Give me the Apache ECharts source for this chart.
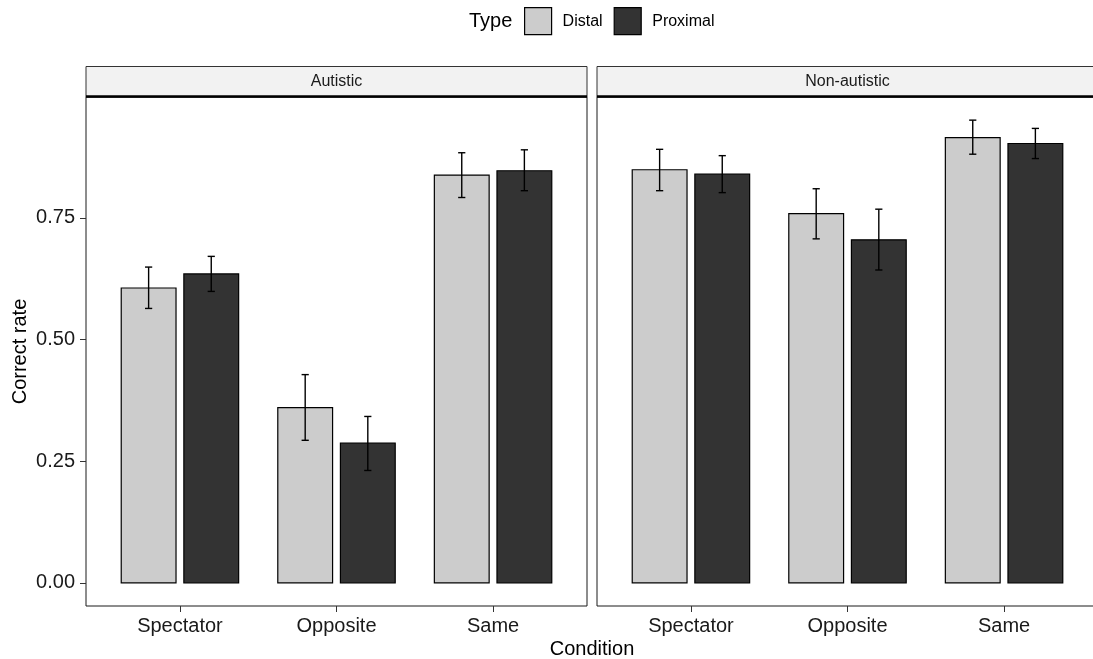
<!DOCTYPE html>
<html>
<head>
<meta charset="utf-8">
<script src="https://cdn.jsdelivr.net/npm/echarts@6/dist/echarts.min.js"></script>
<style>
html,body{margin:0;padding:0;background:#fff;}
#chart{width:1093px;height:659px;}
</style>
</head>
<body>
<div id="chart"></div>
<script>
// ---- data ----
const categories = ['Spectator', 'Opposite', 'Same'];
const panels = ['Autistic', 'Non-autistic'];
const types = ['Distal', 'Proximal'];
const yTicks = [0, 0.25, 0.5, 0.75];

const autDistal      = [0.606, 0.360, 0.838];
const autDistalLo    = [0.564, 0.293, 0.792];
const autDistalHi    = [0.649, 0.428, 0.884];
const autProximal    = [0.635, 0.287, 0.847];
const autProximalLo  = [0.599, 0.231, 0.806];
const autProximalHi  = [0.671, 0.342, 0.890];

const nonDistal      = [0.849, 0.759, 0.915];
const nonDistalLo    = [0.806, 0.707, 0.881];
const nonDistalHi    = [0.891, 0.810, 0.951];
const nonProximal    = [0.840, 0.705, 0.903];
const nonProximalLo  = [0.802, 0.643, 0.872];
const nonProximalHi  = [0.878, 0.768, 0.934];

// ---- layout / style ----
const FONT = 'Liberation Sans, Arial, sans-serif';
const fills = ['#cccccc', '#333333'];
const offsets = [-0.2, 0.2];
const barHalf = 0.175;
const whiskerHalf = 0.023;
const gridTop = 97, gridH = 509, gridW = 501;
const gridLefts = [86, 597];
const stripH = 30.5;

const seriesData = [
  [[autDistal, autDistalLo, autDistalHi], [autProximal, autProximalLo, autProximalHi]],
  [[nonDistal, nonDistalLo, nonDistalHi], [nonProximal, nonProximalLo, nonProximalHi]]
];

// y range: data range 0..max(hi) with 5% expansion (ggplot style)
let maxHi = 0;
seriesData.forEach(p => p.forEach(t => t[2].forEach(v => { if (v > maxHi) maxHi = v; })));
const yExp = maxHi * 0.05;
const yMin = -yExp, yMax = maxHi + yExp;

const grids = gridLefts.map(l => ({
  left: l, top: gridTop, width: gridW, height: gridH,
  outerBoundsMode: 'none', containLabel: false,
  show: true, borderColor: '#1a1a1a', borderWidth: 1, backgroundColor: 'transparent'
}));

const xAxes = panels.map((p, i) => ({
  type: 'value', gridIndex: i, min: 0.4, max: 3.6,
  axisLine: { show: false, onZero: false },
  splitLine: { show: false },
  axisTick: { show: true, inside: false, customValues: [1, 2, 3], length: 6, lineStyle: { color: '#333', width: 1 } },
  axisLabel: {
    customValues: [1, 2, 3], formatter: v => categories[Math.round(v) - 1],
    fontSize: 20, color: '#1a1a1a', fontFamily: FONT, margin: 10
  }
}));

const yAxes = panels.map((p, i) => ({
  type: 'value', gridIndex: i, min: yMin, max: yMax,
  axisLine: { show: false, onZero: false },
  splitLine: { show: false },
  axisTick: i === 0 ? { show: true, customValues: yTicks, length: 6, lineStyle: { color: '#333', width: 1 } } : { show: false },
  axisLabel: i === 0 ? {
    customValues: yTicks, formatter: v => v.toFixed(2),
    fontSize: 20, color: '#1a1a1a', fontFamily: FONT, margin: 11
  } : { show: false },
  name: i === 0 ? 'Correct rate' : '',
  nameLocation: 'middle', nameGap: 56,
  nameTextStyle: { fontSize: 20, color: '#000', fontFamily: FONT }
}));

const series = [];
panels.forEach((p, pi) => {
  types.forEach((t, ti) => {
    const [vals, lo, hi] = seriesData[pi][ti];
    series.push({
      type: 'custom', name: t, xAxisIndex: pi, yAxisIndex: pi,
      itemStyle: { color: fills[ti], borderColor: '#000', borderWidth: 1 },
      encode: { x: 0, y: 1 },
      data: categories.map((c, ci) => [ci + 1, vals[ci]]),
      renderItem: (params, api) => {
        const x = api.value(0) + offsets[ti];
        const v = api.value(1);
        const a = api.coord([x - barHalf, v]);
        const b = api.coord([x + barHalf, 0]);
        return {
          type: 'rect',
          shape: { x: a[0], y: a[1], width: b[0] - a[0], height: b[1] - a[1] },
          style: { fill: fills[ti], stroke: '#000', lineWidth: 1.2 }
        };
      },
      z: 2
    });
    series.push({
      type: 'custom', name: t, xAxisIndex: pi, yAxisIndex: pi,
      itemStyle: { color: fills[ti] },
      encode: { x: 0, y: [1, 2] },
      data: categories.map((c, ci) => [ci + 1, lo[ci], hi[ci]]),
      renderItem: (params, api) => {
        const x = api.value(0) + offsets[ti];
        const l = api.value(1), h = api.value(2);
        const pl = api.coord([x, l]), ph = api.coord([x, h]);
        const wl = api.coord([x - whiskerHalf, l]), wr = api.coord([x + whiskerHalf, l]);
        const hl = api.coord([x - whiskerHalf, h]), hr = api.coord([x + whiskerHalf, h]);
        const st = { stroke: '#000', lineWidth: 1.4 };
        return {
          type: 'group',
          children: [
            { type: 'line', shape: { x1: pl[0], y1: pl[1], x2: ph[0], y2: ph[1] }, style: st },
            { type: 'line', shape: { x1: wl[0], y1: wl[1], x2: wr[0], y2: wr[1] }, style: st },
            { type: 'line', shape: { x1: hl[0], y1: hl[1], x2: hr[0], y2: hr[1] }, style: st }
          ]
        };
      },
      z: 3
    });
  });
});

const graphics = [];
panels.forEach((p, i) => {
  const l = gridLefts[i];
  graphics.push({
    type: 'rect', shape: { x: l, y: gridTop - stripH, width: gridW, height: stripH },
    style: { fill: '#f2f2f2', stroke: '#333', lineWidth: 1 }, z: 10
  });
  graphics.push({
    type: 'line', shape: { x1: l, y1: gridTop - 0.5, x2: l + gridW, y2: gridTop - 0.5 },
    style: { stroke: '#000', lineWidth: 2.5 }, z: 11
  });
  graphics.push({
    type: 'text', x: l + gridW / 2, y: gridTop - stripH / 2,
    style: { text: p, fontSize: 16, fill: '#1a1a1a', fontFamily: FONT, textAlign: 'center', textVerticalAlign: 'middle' },
    z: 12
  });
});
graphics.push({
  type: 'text', x: 592, y: 649,
  style: { text: 'Condition', fontSize: 20, fill: '#000', fontFamily: FONT, textAlign: 'center', textVerticalAlign: 'middle' }
});
graphics.push({
  type: 'text', x: 469, y: 21,
  style: { text: 'Type', fontSize: 20, fill: '#000', fontFamily: FONT, textAlign: 'left', textVerticalAlign: 'middle' }
});

const option = {
  animation: false,
  backgroundColor: '#fff',
  textStyle: { fontFamily: FONT },
  grid: grids,
  xAxis: xAxes,
  yAxis: yAxes,
  legend: {
    left: 524, top: 7, padding: 0,
    itemWidth: 27, itemHeight: 27, itemGap: 11,
    selectedMode: false,
    textStyle: { fontSize: 16, color: '#000', fontFamily: FONT, padding: [0, 0, 0, 6] },
    data: types.map((t, i) => ({
      name: t, icon: 'rect',
      itemStyle: { color: fills[i], borderColor: '#000', borderWidth: 1.2 }
    }))
  },
  graphic: graphics,
  series: series
};

const chart = echarts.init(document.getElementById('chart'), null, { renderer: 'canvas' });
chart.setOption(option);
</script>
</body>
</html>
